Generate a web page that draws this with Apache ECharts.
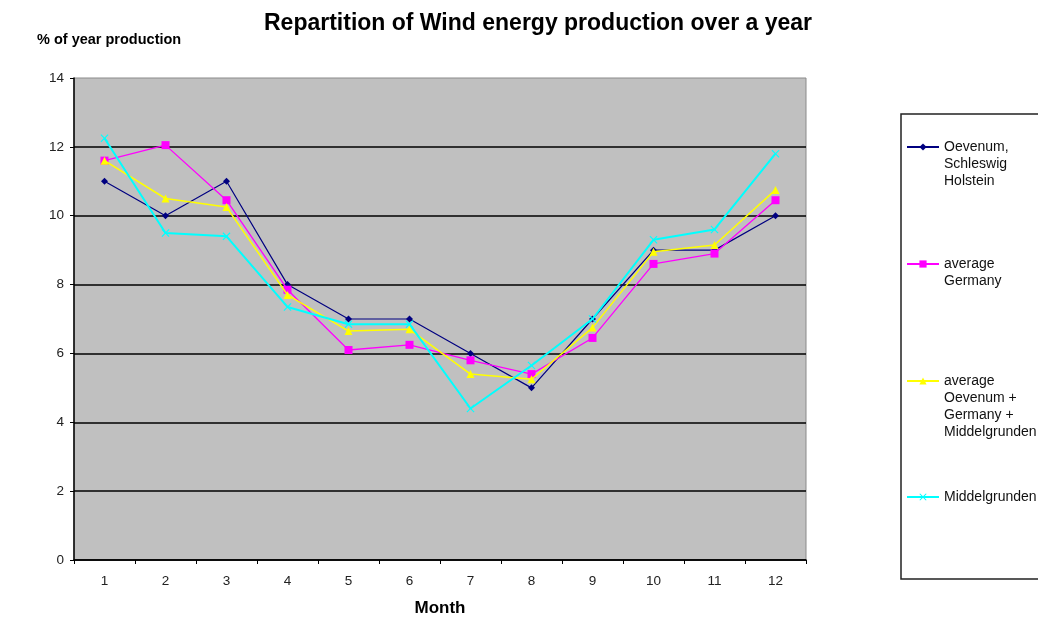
<!DOCTYPE html>
<html>
<head>
<meta charset="utf-8">
<script src="https://cdn.jsdelivr.net/npm/echarts@6/dist/echarts.min.js"></script>
<style>
  html, body { margin: 0; padding: 0; background: #fff; }
  #chart { width: 1038px; height: 617px; }
</style>
</head>
<body>
<div id="chart"></div>
<script>
// Monthly share of annual wind energy production (%)
const months = ['1', '2', '3', '4', '5', '6', '7', '8', '9', '10', '11', '12'];
const oevenum = [11, 10, 11, 8, 7, 7, 6, 5, 7, 9, 9, 10];
const germany = [11.6, 12.05, 10.45, 7.85, 6.1, 6.25, 5.8, 5.4, 6.45, 8.6, 8.9, 10.45];
const averageAll = [11.6, 10.5, 10.25, 7.7, 6.65, 6.7, 5.4, 5.25, 6.75, 8.95, 9.15, 10.75];
const middelgrunden = [12.25, 9.5, 9.4, 7.35, 6.85, 6.85, 4.4, 5.65, 7.0, 9.3, 9.6, 11.8];
const yTicks = { min: 0, max: 14, interval: 2 };

const seriesNames = [
  'Oevenum,\nSchleswig\nHolstein',
  'average\nGermany',
  'average\nOevenum +\nGermany +\nMiddelgrunden',
  'Middelgrunden'
];
const seriesData = [oevenum, germany, averageAll, middelgrunden];
const colors = ['#000080', '#FF00FF', '#FFFF00', '#00FFFF'];
const symbols = [
  'diamond',
  'rect',
  'triangle',
  'path://M0,1L1,0L5,4L9,0L10,1L6,5L10,9L9,10L5,6L1,10L0,9L4,5Z'
];
const symbolSizes = [7, 8, 8, 8];
const lineWidths = [1.2, 1.3, 1.5, 2];

const FONT = 'Liberation Sans, Arial, sans-serif';
const LINE_H = 17;
// vertical centre of each legend entry's marker
const legendCentres = [147, 264, 381, 497];

const chart = echarts.init(document.getElementById('chart'));

// One legend per series so each entry can be placed on its own; the marker
// sits beside the first text line, so blank lines are put ahead of the text.
const legends = seriesNames.map((name, i) => {
  const lines = name.split('\n').length;
  const total = 2 * lines - 1;
  return {
    left: 906,
    top: legendCentres[i] - total * LINE_H / 2,
    padding: 0,
    itemWidth: 32,
    itemHeight: 9,
    selectedMode: false,
    data: [name],
    formatter: (n) => '\n'.repeat(lines - 1) + n,
    textStyle: {
      fontFamily: FONT,
      fontSize: 14,
      color: '#111',
      lineHeight: LINE_H
    }
  };
});

chart.setOption({
  animation: false,
  backgroundColor: '#ffffff',
  title: {
    text: 'Repartition of Wind energy production over a year',
    left: 533,
    top: 7,
    textAlign: 'center',
    textStyle: { fontFamily: FONT, fontSize: 23, fontWeight: 'bold', color: '#000' }
  },
  legend: legends,
  grid: {
    left: 74, top: 78, width: 732, height: 482,
    outerBoundsMode: 'none',
    containLabel: false,
    show: true,
    backgroundColor: '#C0C0C0',
    borderColor: '#8a8a8a',
    borderWidth: 1
  },
  graphic: [
    {
      type: 'text',
      left: 37, top: 32,
      style: {
        text: '% of year production',
        font: 'bold 14.5px ' + FONT,
        fill: '#000'
      }
    },
    {
      type: 'rect',
      shape: { x: 901, y: 114, width: 160, height: 465 },
      style: { fill: 'none', stroke: '#222', lineWidth: 1.5 },
      z: -1
    }
  ],
  xAxis: {
    type: 'category',
    data: months,
    boundaryGap: true,
    name: 'Month',
    nameLocation: 'middle',
    nameGap: 40,
    nameTextStyle: { fontFamily: FONT, fontSize: 17, fontWeight: 'bold', color: '#000' },
    axisLine: { lineStyle: { color: '#000', width: 1.5 } },
    axisTick: { show: true, inside: false, length: 4, lineStyle: { color: '#000' } },
    axisLabel: { fontFamily: FONT, fontSize: 13.5, color: '#222', margin: 14 },
    splitLine: { show: false }
  },
  yAxis: {
    type: 'value',
    min: yTicks.min, max: yTicks.max, interval: yTicks.interval,
    axisLine: { show: true, lineStyle: { color: '#000', width: 1.5 } },
    axisTick: { show: true, length: 4, lineStyle: { color: '#000' } },
    axisLabel: { fontFamily: FONT, fontSize: 13.5, color: '#222', margin: 10 },
    splitLine: { show: true, showMaxLine: false, lineStyle: { color: '#000', width: 1.5 } }
  },
  series: seriesNames.map((name, i) => ({
    name: name,
    type: 'line',
    data: seriesData[i],
    color: colors[i],
    symbol: symbols[i],
    symbolSize: symbolSizes[i],
    showAllSymbol: true,
    lineStyle: { color: colors[i], width: lineWidths[i] },
    itemStyle: { color: colors[i], borderWidth: 0 },
    z: 2 + i
  }))
});
</script>
</body>
</html>
